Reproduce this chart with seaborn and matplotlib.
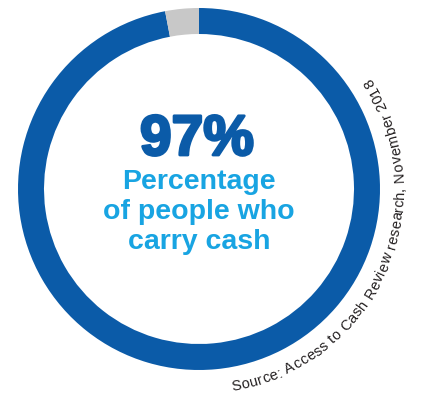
import numpy as np
import matplotlib
matplotlib.use("Agg")
import matplotlib.pyplot as plt
import matplotlib.patheffects as pe
import seaborn as sns
from matplotlib import font_manager
from matplotlib import ft2font
from matplotlib.ft2font import FT2Font

# ---- data ----
labels = ["Carry cash", "Do not carry cash"]
shares = [97, 3]
headline = "97%"
caption_lines = ["Percentage", "of people who", "carry cash"]
source = "Source: Access to Cash Review research, November 2018"

ring_blue = "#0b5ba8"
ring_grey = "#c8c8c8"
light_blue = "#18a4e2"
text_dark = "#231f20"

sns.set_theme(style="white")
plt.rcParams["font.family"] = ["Liberation Sans", "DejaVu Sans"]

W, H = 421, 394
fig = plt.figure(figsize=(W / 100, H / 100), dpi=100)
ax = fig.add_axes([0, 0, 1, 1])

cx, cy, R = 199, H - 189, 181
ax.pie(shares, colors=[ring_blue, ring_grey], startangle=90, counterclock=False,
       center=(cx, cy), radius=R, wedgeprops=dict(width=26, linewidth=0))
ax.set_xlim(0, W)
ax.set_ylim(0, H)
ax.set_aspect("equal", adjustable="box")
ax.axis("off")

ax.text(cx - 2, H - 155, headline, ha="center", va="baseline", fontsize=41,
        fontweight="bold", color=ring_blue,
        path_effects=[pe.withStroke(linewidth=2, foreground=ring_blue)])
for line, yb in zip(caption_lines, [189, 219, 249]):
    ax.text(cx, H - yb, line, ha="center", va="baseline", fontsize=20.5,
            fontweight="bold", color=light_blue)

# curved source text (one real text per character along the arc)
fs = 10.5
fpath = font_manager.findfont(font_manager.FontProperties(family="Liberation Sans"))
ft = FT2Font(fpath, hinting_factor=1)
ft.set_size(100, 72)
try:
    flag = ft2font.LoadFlags.NO_HINTING
except AttributeError:
    flag = ft2font.LOAD_NO_HINTING
adv, inkc = [], []
for ch in source:
    g = ft.load_char(ord(ch), flags=flag)
    a = g.linearHoriAdvance / 65536.0
    adv.append(a)
    if ch == " ":
        inkc.append(a / 2)
    else:
        inkc.append(g.horiBearingX / 64.0 + g.width / 128.0)
adv = np.array(adv, float)
inkc = np.array(inkc, float)
total = adv.sum()
a0, a1 = np.deg2rad(-80.8), np.deg2rad(33.0)
span = a1 - a0
rb = 205
cum = np.concatenate([[0], np.cumsum(adv)])
for i, ch in enumerate(source):
    if ch == " ":
        continue
    frac = (cum[i] + inkc[i]) / total
    th = a0 + frac * span
    x = cx + rb * np.cos(th)
    y = cy + rb * np.sin(th)
    ax.text(x, y, ch, ha="center", va="baseline", rotation=np.rad2deg(th) + 90,
            rotation_mode="anchor", fontsize=fs, color=text_dark)

fig.savefig("out.png", dpi=100)
